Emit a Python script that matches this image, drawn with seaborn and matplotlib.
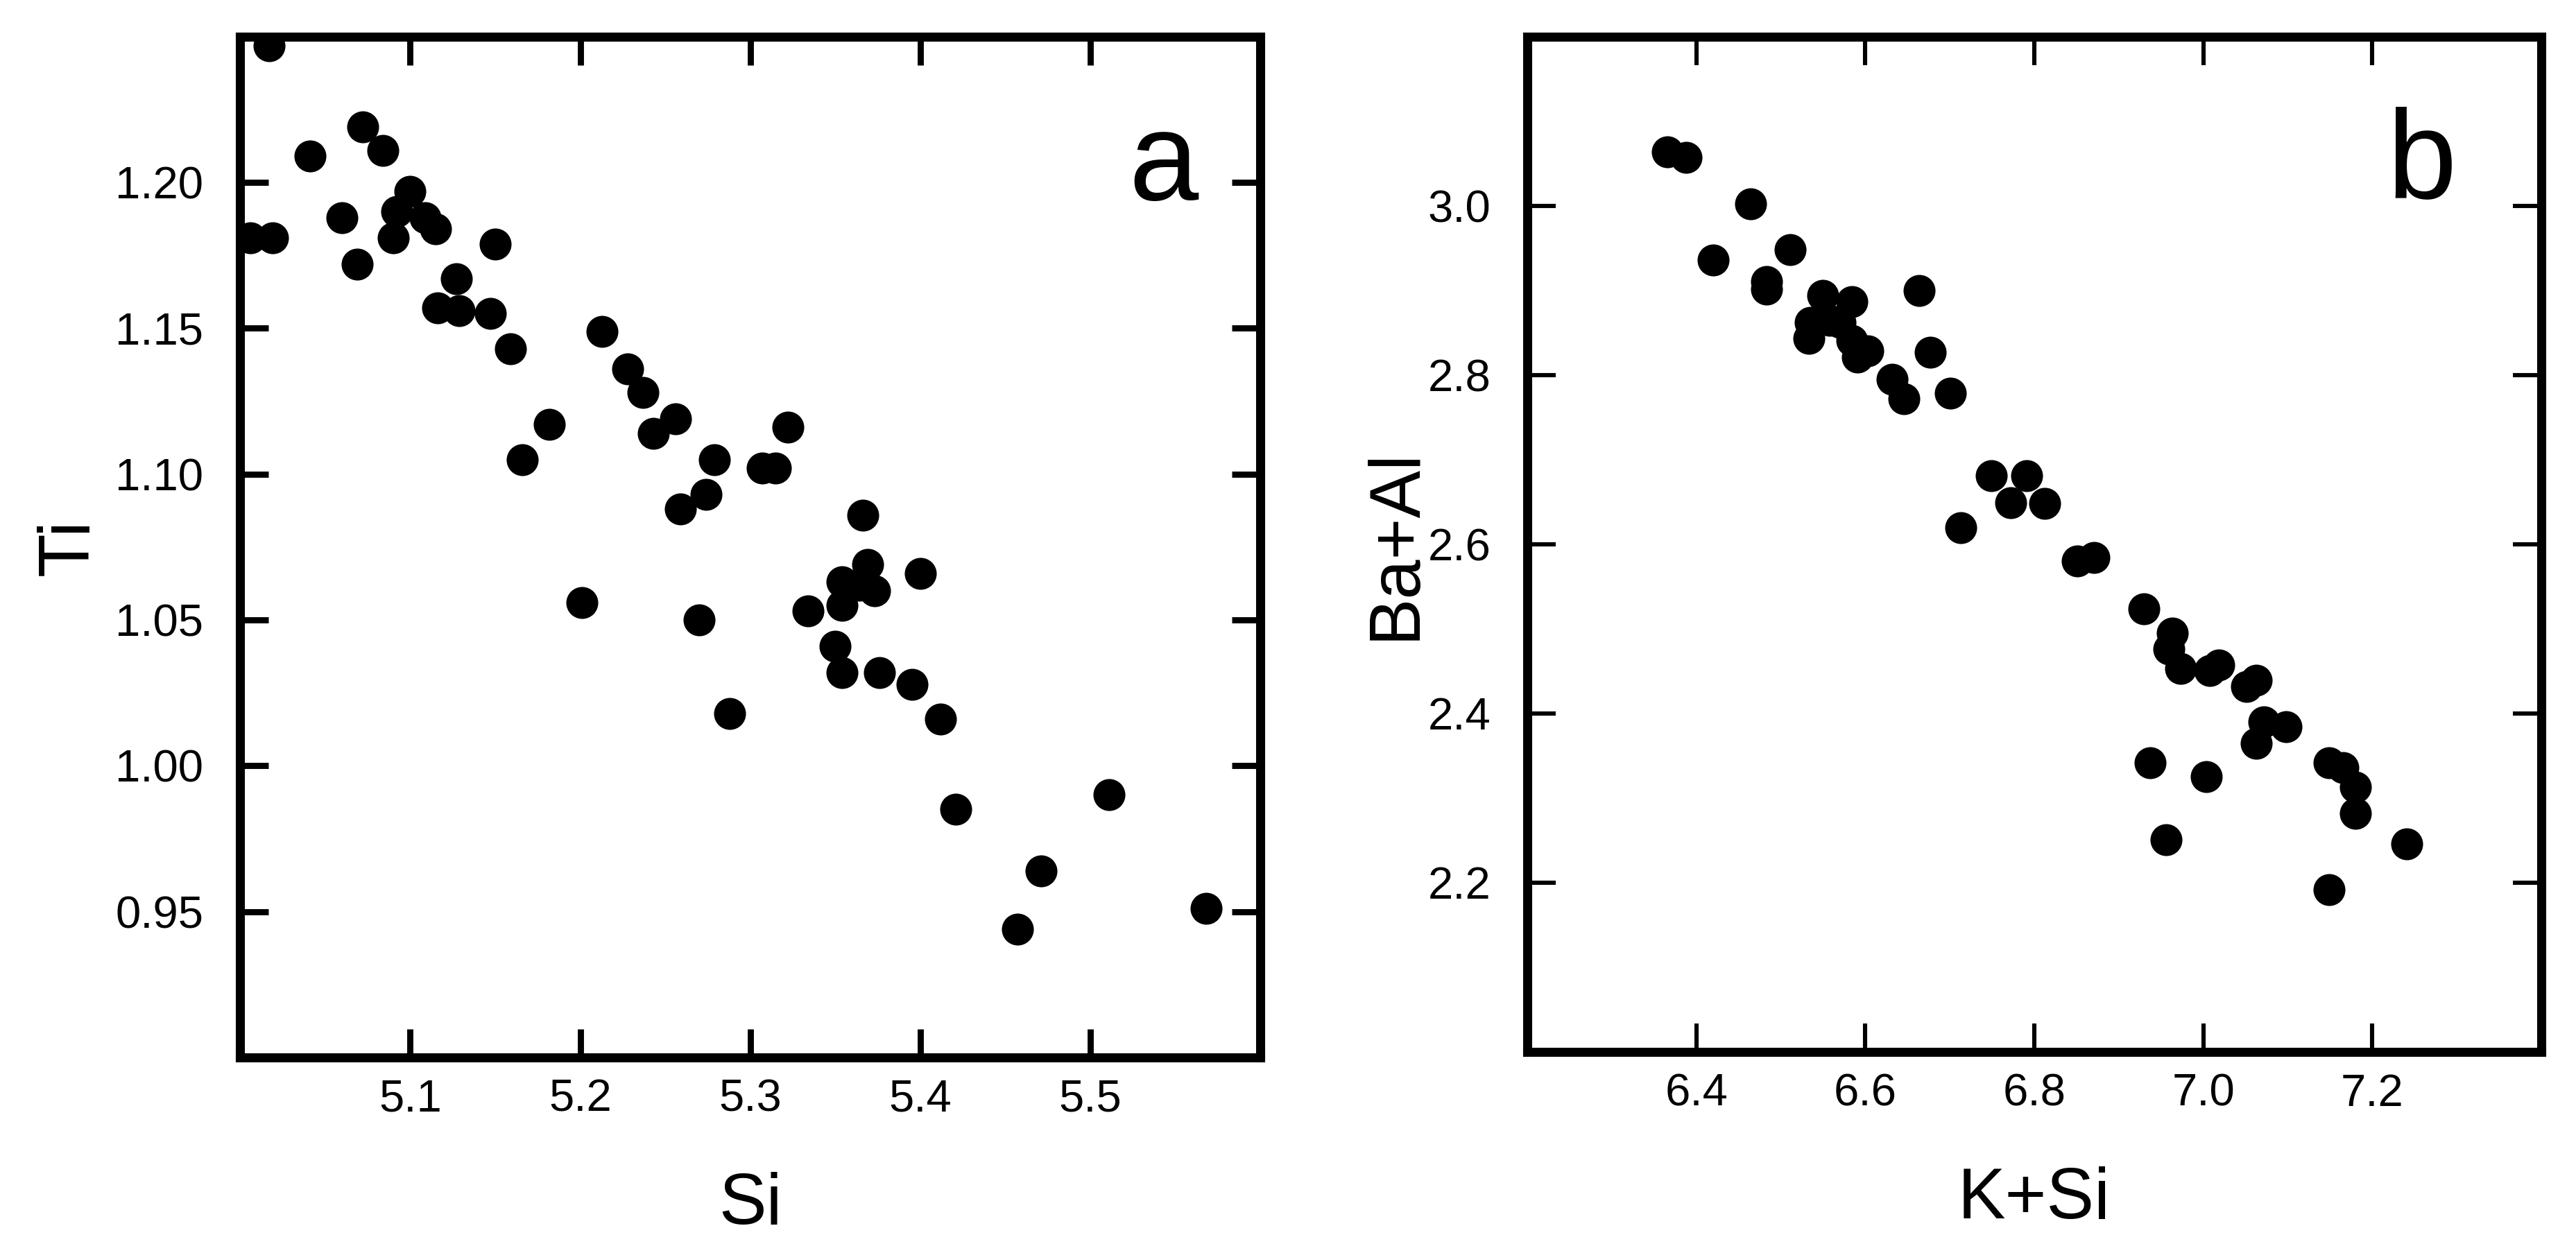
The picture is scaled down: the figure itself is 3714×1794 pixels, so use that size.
import matplotlib
matplotlib.use("Agg")
import matplotlib.pyplot as plt
import seaborn as sns

# panel a: Ti vs Si
si = [5.017, 5.041, 5.072, 5.084, 5.100, 5.092, 5.109, 5.115, 5.060, 5.090,
      5.006, 5.019, 5.069, 5.150, 5.127, 5.116, 5.129, 5.147, 5.159, 5.213,
      5.228, 5.237, 5.256, 5.243, 5.182, 5.166, 5.279, 5.274, 5.259, 5.307,
      5.315, 5.322, 5.366, 5.369, 5.354, 5.364, 5.373, 5.354, 5.400, 5.334,
      5.201, 5.270, 5.350, 5.354, 5.376, 5.395, 5.288, 5.412, 5.421, 5.511,
      5.471, 5.457, 5.568]
ti = [1.247, 1.209, 1.219, 1.211, 1.197, 1.190, 1.188, 1.184, 1.188, 1.181,
      1.181, 1.181, 1.172, 1.179, 1.167, 1.157, 1.156, 1.155, 1.143, 1.149,
      1.136, 1.128, 1.119, 1.114, 1.117, 1.105, 1.105, 1.093, 1.088, 1.102,
      1.102, 1.116, 1.086, 1.069, 1.063, 1.062, 1.060, 1.055, 1.066, 1.053,
      1.056, 1.050, 1.041, 1.032, 1.032, 1.028, 1.018, 1.016, 0.985, 0.990,
      0.964, 0.944, 0.951]

# panel b: Ba+Al vs K+Si
k_si = [6.366, 6.388, 6.464, 6.420, 6.511, 6.483, 6.483, 6.550, 6.584, 6.664,
        6.535, 6.558, 6.570, 6.533, 6.584, 6.591, 6.603, 6.677, 6.632, 6.646,
        6.701, 6.749, 6.791, 6.772, 6.812, 6.713, 6.851, 6.871, 6.930, 6.963,
        6.959, 6.973, 7.008, 7.018, 7.051, 7.063, 7.072, 7.098, 7.063, 6.937,
        7.004, 7.149, 7.165, 7.180, 7.180, 6.956, 7.241, 7.149]
ba_al = [3.064, 3.057, 3.002, 2.936, 2.948, 2.911, 2.902, 2.894, 2.887, 2.900,
         2.862, 2.865, 2.862, 2.843, 2.841, 2.821, 2.829, 2.827, 2.795, 2.772,
         2.779, 2.681, 2.681, 2.649, 2.648, 2.620, 2.580, 2.584, 2.524, 2.495,
         2.476, 2.453, 2.451, 2.457, 2.432, 2.439, 2.390, 2.384, 2.365, 2.342,
         2.325, 2.342, 2.336, 2.313, 2.282, 2.251, 2.246, 2.192]

si_ticks = [5.1, 5.2, 5.3, 5.4, 5.5]
ti_ticks = [0.95, 1.00, 1.05, 1.10, 1.15, 1.20]
ksi_ticks = [6.4, 6.6, 6.8, 7.0, 7.2]
baal_ticks = [2.2, 2.4, 2.6, 2.8, 3.0]

sns.set_theme(style="ticks")
plt.rcParams["font.family"] = ["Liberation Sans", "DejaVu Sans"]
plt.rcParams["text.color"] = "black"
plt.rcParams["axes.labelcolor"] = "black"

fig = plt.figure(figsize=(18.57, 8.97), dpi=200)
ax_a = fig.add_axes([0.0932, 0.1500, 0.3961, 0.8205])
ax_b = fig.add_axes([0.5929, 0.1544, 0.3936, 0.8161])


def style_axes(ax, tick_width):
    for sp in ax.spines.values():
        sp.set_linewidth(4.7)
        sp.set_color("black")
    ax.tick_params(direction="in", top=True, right=True, length=14.8,
                   width=tick_width, labelsize=23.5, colors="black")
    ax.tick_params(axis="x", pad=11)
    ax.tick_params(axis="y", pad=19)
    ax.grid(False)


sns.scatterplot(x=si, y=ti, ax=ax_a, color="black", s=275, linewidth=0)
ax_a.set_xlim(5.0, 5.6)
ax_a.set_ylim(0.90, 1.25)
ax_a.set_xticks(si_ticks)
ax_a.set_yticks(ti_ticks)
ax_a.set_yticklabels([f"{t:.2f}" for t in ti_ticks])
ax_a.set_xlabel("Si", fontsize=37)
ax_a.set_ylabel("Ti", fontsize=37)
ax_a.xaxis.set_label_coords(0.5, -0.112)
ax_a.yaxis.set_label_coords(-0.134, 0.5)
ax_a.text(0.871, 0.840, "a", transform=ax_a.transAxes, fontsize=65,
          color="black")
style_axes(ax_a, 3.2)

sns.scatterplot(x=k_si, y=ba_al, ax=ax_b, color="black", s=275, linewidth=0)
ax_b.set_xlim(6.2, 7.4)
ax_b.set_ylim(2.0, 3.2)
ax_b.set_xticks(ksi_ticks)
ax_b.set_yticks(baal_ticks)
ax_b.set_xticklabels([f"{t:.1f}" for t in ksi_ticks])
ax_b.set_yticklabels([f"{t:.1f}" for t in baal_ticks])
ax_b.set_xlabel("K+Si", fontsize=37)
ax_b.set_ylabel("Ba+Al", fontsize=37)
ax_b.xaxis.set_label_coords(0.5, -0.113)
ax_b.yaxis.set_label_coords(-0.096, 0.5)
ax_b.text(0.848, 0.8415, "b", transform=ax_b.transAxes, fontsize=65,
          color="black")
style_axes(ax_b, 2.2)

fig.savefig("out.png", dpi=200, facecolor="white")
